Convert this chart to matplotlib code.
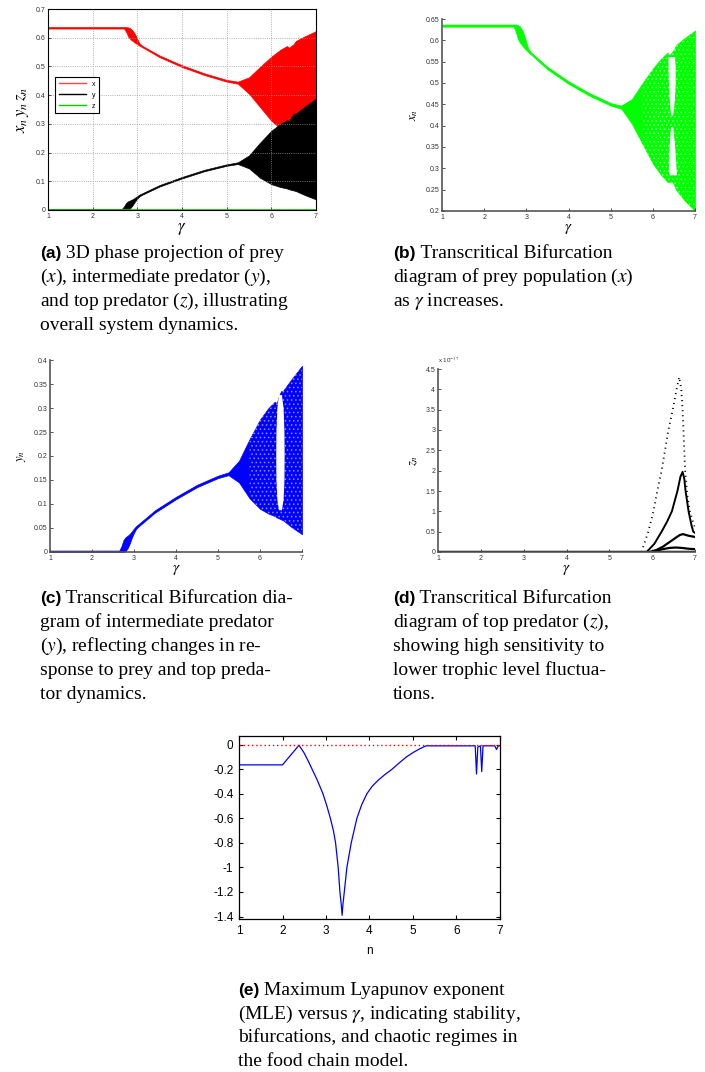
# -*- coding: utf-8 -*-
# Bifurcation diagrams of the three-species food chain and the MLE curve

import matplotlib
matplotlib.use('Agg')
import matplotlib.pyplot as plt
from matplotlib.lines import Line2D
from matplotlib.ticker import FuncFormatter

plt.rcParams['font.family'] = ['Liberation Sans', 'DejaVu Sans']
plt.rcParams['mathtext.fontset'] = 'stix'
plt.rcParams['axes.unicode_minus'] = False
plt.rcParams['hatch.linewidth'] = 0.7

# prey x : envelope of the attractor versus gamma
gx = [1.0, 2.0, 2.7, 2.75, 2.8, 2.85, 2.9, 2.95, 3.0, 3.05, 3.12, 3.5, 4.0, 4.5, 5.0,
      5.25, 5.5, 5.75, 6.0, 6.2, 6.35, 6.4, 6.45, 6.5, 6.55, 6.75, 7.0]
x_hi = [0.637, 0.637, 0.637, 0.637, 0.636, 0.632, 0.624, 0.612, 0.595, 0.58, 0.571, 0.538,
        0.504, 0.476, 0.453, 0.447, 0.462, 0.499, 0.534, 0.558, 0.571, 0.565, 0.572, 0.578,
        0.589, 0.605, 0.623]
x_lo = [0.632, 0.632, 0.632, 0.620, 0.603, 0.594, 0.588, 0.582, 0.577, 0.572, 0.566, 0.532,
        0.498, 0.470, 0.447, 0.440, 0.405, 0.358, 0.311, 0.284, 0.268, 0.268, 0.270, 0.262,
        0.250, 0.225, 0.200]
# periodic window inside the chaotic band of x (two lobes)
xw_up_y = [0.562, 0.54, 0.50, 0.46, 0.425]
xw_up_l = [6.36, 6.36, 6.37, 6.39, 6.42]
xw_up_r = [6.51, 6.53, 6.53, 6.51, 6.47]
xw_lo_y = [0.398, 0.36, 0.32, 0.30, 0.285]
xw_lo_l = [6.42, 6.39, 6.37, 6.37, 6.39]
xw_lo_r = [6.47, 6.51, 6.54, 6.55, 6.56]

# intermediate predator y
gy = [1.0, 2.65, 2.7, 2.75, 2.8, 2.85, 2.9, 2.95, 3.0, 3.05, 3.12, 3.5, 4.0, 4.5, 5.0,
      5.25, 5.5, 5.75, 6.0, 6.2, 6.35, 6.4, 6.45, 6.5, 6.55, 6.75, 7.0]
y_hi = [0.003, 0.003, 0.012, 0.025, 0.031, 0.034, 0.038, 0.043, 0.049, 0.054, 0.059, 0.087,
        0.115, 0.140, 0.159, 0.166, 0.190, 0.235, 0.276, 0.300, 0.313, 0.310, 0.325, 0.335,
        0.336, 0.360, 0.388]
y_lo = [0.0, 0.0, 0.0, 0.0, 0.002, 0.008, 0.018, 0.030, 0.040, 0.048, 0.054, 0.082, 0.110,
        0.135, 0.154, 0.160, 0.145, 0.112, 0.090, 0.080, 0.075, 0.072, 0.070, 0.068, 0.066,
        0.052, 0.037]
yw_y = [0.328, 0.30, 0.25, 0.20, 0.15, 0.11, 0.088]
yw_l = [6.44, 6.40, 6.38, 6.375, 6.38, 6.40, 6.44]
yw_r = [6.51, 6.55, 6.57, 6.575, 6.57, 6.55, 6.51]

# chaotic regime starts here; drawn with a speckled fill
chaos_start = 5.6

# top predator z (units of 1e-37)
z0_g = [1.0, 7.0]
z0 = [0.0, 0.0]
z1_g = [5.75, 5.91, 6.03, 6.12, 6.22, 6.30, 6.38, 6.48, 6.57, 6.63, 6.68, 6.71, 6.73, 6.75,
        6.77, 6.82, 6.88, 6.95, 7.0]
z1 = [0.0, 0.5, 1.0, 1.5, 2.0, 2.5, 3.0, 3.5, 4.0, 4.3, 4.0, 3.5, 3.0, 2.5, 2.0, 1.4, 1.0,
      0.75, 0.6]
z2_g = [5.87, 6.05, 6.22, 6.35, 6.46, 6.59, 6.66, 6.71, 6.75, 6.78, 6.85, 6.92, 6.96, 7.0]
z2 = [0.0, 0.2, 0.5, 0.75, 1.0, 1.5, 1.85, 1.97, 1.8, 1.5, 1.0, 0.65, 0.5, 0.47]
z3_g = [5.95, 6.1, 6.25, 6.4, 6.55, 6.65, 6.72, 6.85, 7.0]
z3 = [0.0, 0.05, 0.13, 0.24, 0.35, 0.42, 0.44, 0.40, 0.37]
z4_g = [6.0, 6.2, 6.4, 6.55, 6.7, 6.85, 7.0]
z4 = [0.0, 0.06, 0.10, 0.11, 0.10, 0.08, 0.07]

# maximum Lyapunov exponent
mle_g = [1.0, 2.0, 2.38, 2.5, 2.6, 2.68, 2.8, 2.93, 3.02, 3.10, 3.17, 3.22, 3.28, 3.32,
         3.35, 3.37, 3.39, 3.42, 3.48, 3.58, 3.71, 3.82, 3.94, 4.06, 4.2, 4.35, 4.52,
         4.68, 4.85, 5.0, 5.15, 5.3, 6.0, 6.43, 6.46, 6.49, 6.55, 6.58, 6.61, 6.8, 6.88,
         6.92, 6.96, 7.0]
mle = [-0.165, -0.165, -0.005, -0.07, -0.14, -0.2, -0.29, -0.4, -0.5, -0.6, -0.7, -0.8,
       -1.0, -1.2, -1.3, -1.39, -1.3, -1.2, -1.0, -0.8, -0.6, -0.49, -0.4, -0.34, -0.29,
       -0.245, -0.2, -0.15, -0.1, -0.065, -0.035, -0.01, -0.01, -0.01, -0.24, -0.02,
       -0.01, -0.22, -0.01, -0.01, -0.01, -0.04, -0.01, -0.01]

W, H = 705, 1072
fig = plt.figure(figsize=(W / 100, H / 100), dpi=100)


def box(x0, y0, x1, y1):
    return fig.add_axes([x0 / W, 1 - y1 / H, (x1 - x0) / W, (y1 - y0) / H])


g_fmt = FuncFormatter(lambda v, p: '%g' % round(v, 3))


def small_axes(ax, ylab, yticks):
    for s in ['top', 'right']:
        ax.spines[s].set_visible(False)
    for s in ['left', 'bottom']:
        ax.spines[s].set_color('#555555')
        ax.spines[s].set_linewidth(1.2)
    ax.set_xlim(1, 7)
    ax.set_xticks(range(1, 8))
    ax.set_yticks(yticks)
    ax.yaxis.set_major_formatter(g_fmt)
    ax.tick_params(direction='in', length=2, width=0.6, labelsize=5, colors='#333333',
                   pad=2)
    ax.set_xlabel(r'$\gamma$', fontsize=11, labelpad=1)
    ax.set_ylabel(ylab, fontsize=9, labelpad=4)


def speckle(ax, g, lo, hi):
    # light speckle over the chaotic part of a band
    ax.fill_between(g, lo, hi, where=[v >= chaos_start for v in g], facecolor='none',
                    edgecolor='white', hatch='....', lw=0, alpha=0.45)


# (a) all three populations
ax = box(48, 9, 316, 210)
ax.fill_between(gx, x_lo, x_hi, facecolor='red', edgecolor='red', lw=0.5)
ax.fill_between(gy, y_lo, y_hi, facecolor='black', edgecolor='black', lw=0.5)
ax.plot(z0_g, z0, color='#00cc00', lw=1.2)
ax.set_xlim(1, 7)
ax.set_ylim(0, 0.7)
ax.set_yticks([0, 0.1, 0.2, 0.3, 0.4, 0.5, 0.6, 0.7])
ax.yaxis.set_major_formatter(g_fmt)
ax.grid(True, linestyle=':', color='#999999', lw=0.6)
ax.tick_params(direction='in', length=2, width=0.6, labelsize=5, colors='#333333', pad=2)
ax.set_xlabel(r'$\gamma$', fontsize=12, labelpad=1)
ax.set_ylabel(r'$x_n\,y_n\,z_n$', fontsize=12, labelpad=3)
handles = [Line2D([], [], color='#ff4444', lw=1), Line2D([], [], color='black', lw=1),
           Line2D([], [], color='#00cc00', lw=1)]
leg = ax.legend(handles, ['x', 'y', 'z'], loc='upper left',
                bbox_to_anchor=(4 / 268, 1 - 65 / 201), fontsize=5, handlelength=4,
                borderpad=0.45, labelspacing=0.6, fancybox=False, framealpha=1)
leg.get_frame().set_edgecolor('black')
leg.get_frame().set_linewidth(0.8)

# (b) prey
ax = box(442, 19, 695, 211)
ax.fill_between(gx, x_lo, x_hi, facecolor='#00ff00', edgecolor='#00ff00', lw=0.5)
speckle(ax, gx, x_lo, x_hi)
ax.fill_betweenx(xw_up_y, xw_up_l, xw_up_r, color='white', lw=0)
ax.fill_betweenx(xw_lo_y, xw_lo_l, xw_lo_r, color='white', lw=0)
ax.set_ylim(0.2, 0.65)
small_axes(ax, r'$x_n$', [0.2, 0.25, 0.3, 0.35, 0.4, 0.45, 0.5, 0.55, 0.6, 0.65])

# (c) intermediate predator
ax = box(50, 360, 302, 552)
ax.fill_between(gy, y_lo, y_hi, facecolor='#0000ff', edgecolor='#0000ff', lw=0.5)
speckle(ax, gy, y_lo, y_hi)
ax.fill_betweenx(yw_y, yw_l, yw_r, color='white', lw=0)
ax.set_ylim(0, 0.4)
small_axes(ax, r'$y_n$', [0, 0.05, 0.1, 0.15, 0.2, 0.25, 0.3, 0.35, 0.4])

# (d) top predator
ax = box(438, 369, 695, 552)
ax.plot(z0_g, z0, color='black', lw=2.5)
ax.plot(z1_g, z1, color='black', lw=1.3, linestyle=(0, (0.6, 2.2)))
ax.plot(z2_g, z2, color='black', lw=1.4)
ax.plot(z3_g, z3, color='black', lw=1.6)
ax.plot(z4_g, z4, color='black', lw=1.6)
ax.set_ylim(0, 4.5)
small_axes(ax, r'$z_n$', [0, 0.5, 1, 1.5, 2, 2.5, 3, 3.5, 4, 4.5])
ax.text(0.0, 1.02, r'x 10$^{-37}$', transform=ax.transAxes, fontsize=4.5,
        color='#333333', va='bottom')

# (e) maximum Lyapunov exponent
ax = box(239, 736, 500, 919)
ax.plot(mle_g, mle, color='#0000ff', lw=0.9)
ax.plot([1, 7], [0, 0], color='red', lw=1.0, linestyle=(0, (1, 2)))
ax.set_xlim(1, 7)
ax.set_ylim(-1.42, 0.07)
ax.set_xticks(range(1, 8))
ax.set_yticks([0, -0.2, -0.4, -0.6, -0.8, -1, -1.2, -1.4])
ax.yaxis.set_major_formatter(g_fmt)
ax.tick_params(direction='in', length=3, width=0.8, labelsize=8.5, top=True, right=True,
               pad=4)
for s in ax.spines.values():
    s.set_linewidth(0.9)
ax.set_xlabel('n', fontsize=8.5, labelpad=6)

# captions
renderer = fig.canvas.get_renderer()
serif = ['Liberation Serif', 'DejaVu Serif']


def caption(x, y, tag, lines, size=14, step=24):
    t = fig.text(x / W, 1 - y / H, tag, fontsize=size - 1.5, fontweight='bold',
                 family=['Liberation Sans', 'DejaVu Sans'], va='baseline')
    w = t.get_window_extent(renderer=renderer).width
    for i, line in enumerate(lines):
        x0 = (x + w) / W if i == 0 else x / W
        fig.text(x0, 1 - (y + i * step) / H, line, fontsize=size, family=serif,
                 va='baseline')


caption(40, 258, '(a)', [' 3D phase projection of prey',
                         '($x$), intermediate predator ($y$),',
                         'and top predator ($z$), illustrating',
                         'overall system dynamics.'])
caption(393, 258, '(b)', [' Transcritical Bifurcation',
                          'diagram of prey population ($x$)',
                          r'as $\gamma$ increases.'])
caption(40, 603, '(c)', [' Transcritical Bifurcation dia-',
                         'gram of intermediate predator',
                         '($y$), reflecting changes in re-',
                         'sponse to prey and top preda-',
                         'tor dynamics.'])
caption(393, 603, '(d)', [' Transcritical Bifurcation',
                          'diagram of top predator ($z$),',
                          'showing high sensitivity to',
                          'lower trophic level fluctua-',
                          'tions.'])
caption(238, 995, '(e)', [' Maximum Lyapunov exponent',
                          r'(MLE) versus $\gamma$, indicating stability,',
                          'bifurcations, and chaotic regimes in',
                          'the food chain model.'], step=23.5)

fig.savefig('out.png', dpi=100)
